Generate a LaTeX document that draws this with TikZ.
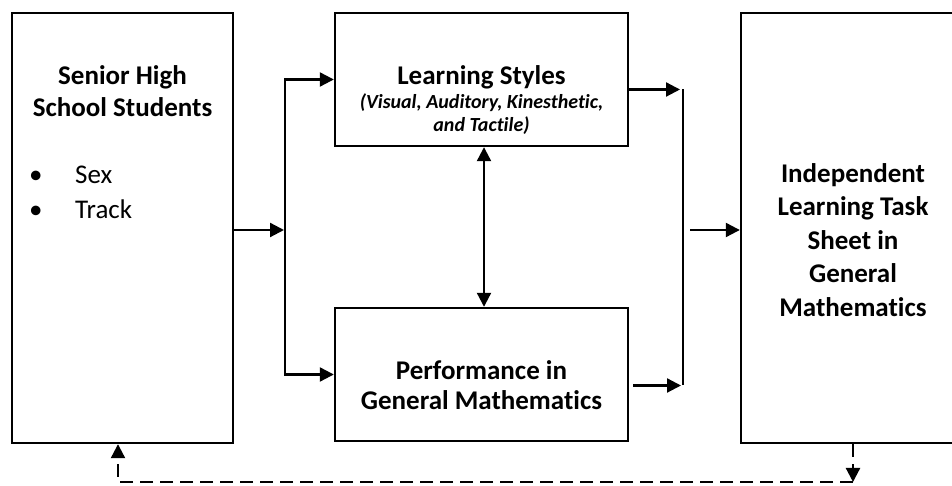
\documentclass[tikz,border=0pt]{standalone}
\usepackage{fontspec}
\setmainfont{Carlito}[Ligatures=NoCommon]
\usetikzlibrary{arrows.meta}
\tikzset{>={Triangle[length=14pt,width=14pt]},
  box/.style={draw,line width=2.4pt,inner sep=0pt},
  link/.style={line width=2.2pt},
  back/.style={line width=2.2pt,dash pattern=on 13pt off 7pt}}

\begin{document}
\begin{tikzpicture}[x=1pt,y=1pt]
  \useasboundingbox (0,0) rectangle (952,486);
  \clip (0,0) rectangle (952,486);
  % boxes
  \node[box,minimum width=221,minimum height=430] (shs) at (122.5,258) {};
  \node[box,minimum width=293,minimum height=133] (ls) at (481.5,406.5) {};
  \node[box,minimum width=293,minimum height=133] (perf) at (481.5,111.5) {};
  \node[box,minimum width=224,minimum height=430] (ilts) at (853,258) {};
  % texts
  \node[align=center,font=\fontsize{27}{32}\selectfont\bfseries] (shstitle) at (122.5,395) {Senior High\\School Students};
  \node[anchor=west,align=left,inner sep=0pt,font=\fontsize{27}{35}\selectfont] (shsitems) at (29,293.5)
    {\makebox[46pt][l]{\textbullet}Sex\\\makebox[46pt][l]{\textbullet}Track};
  \node[font=\fontsize{27}{32}\selectfont\bfseries] (lstitle) at (481.5,409) {Learning Styles};
  \node[align=center,font=\fontsize{20}{23}\selectfont\bfseries\itshape] (lsitems) at (481.5,371.5)
    {(Visual, Auditory, Kinesthetic,\\and Tactile)};
  \node[align=center,font=\fontsize{27}{30}\selectfont\bfseries] (perftitle) at (481.5,101) {Performance in\\General Mathematics};
  \node[align=center,font=\fontsize{27}{33.5}\selectfont\bfseries] (iltstitle) at (853,246)
    {Independent\\Learning Task\\Sheet in\\General\\Mathematics};
  % connectors
  \coordinate (fork) at (285,256);
  \coordinate (join) at (683,256);
  \coordinate (back) at (853,4);
  \draw[link,->] (fork -| shs.east) -- ([xshift=-1]fork);
  \draw[link,<->] (ls.west) -| (fork |- perf.west) -- (perf.west);
  \draw[link,<->] ([xshift=2.5]ls.south) -- ([xshift=2.5]perf.north);
  \draw[link,->,shorten >=3] ([yshift=-10]ls.east) -- ([yshift=-10]ls.east -| join);
  \draw[link,->,shorten >=2,shorten <=4] ([yshift=-11]perf.east) -- ([yshift=-11]perf.east -| join);
  \draw[link] ([yshift=-10]ls.east -| join) -- ([yshift=-11]perf.east -| join);
  \draw[link,->] ([xshift=7]join) -- (join -| ilts.west);
  \draw[back,->] (ilts.south) -- (back);
  \draw[back,->] (back) -| ([xshift=-4.5]shs.south);
\end{tikzpicture}
\end{document}
